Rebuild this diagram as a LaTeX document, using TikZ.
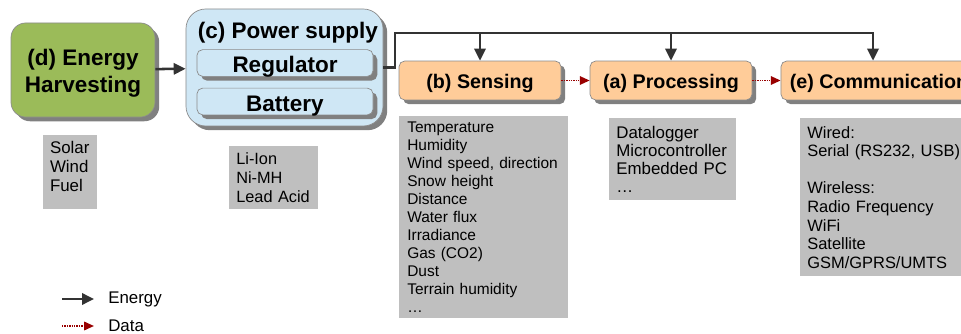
\documentclass[tikz,border=0pt]{standalone}
\usepackage{fontspec}
\setmainfont{Liberation Sans}
\usetikzlibrary{arrows.meta,shadows,positioning}

\definecolor{harvgreen}{HTML}{9BBB59}
\definecolor{psublue}{HTML}{CFE7F5}
\definecolor{peach}{HTML}{FFCC99}
\definecolor{shadowgray}{HTML}{808080}
\definecolor{edgegray}{HTML}{8C8C8C}
\definecolor{wiregray}{HTML}{333333}
\definecolor{datared}{HTML}{990000}

\tikzset{
  block/.style={draw=edgegray,line width=0.5pt,
    drop shadow={shadow xshift=3pt,shadow yshift=-3pt,fill=shadowgray,opacity=1}},
  bigblock/.style={block,font=\fontsize{16}{19.2}\selectfont\bfseries,align=center},
  stageblock/.style={block,fill=peach,rounded corners=4pt,minimum width=115.2pt,
    minimum height=27.7pt,inner sep=0pt,text height=12pt,text depth=0pt,
    font=\fontsize{14}{16}\selectfont\bfseries},
  partblock/.style={block,fill=psublue,rounded corners=4pt,minimum width=125.2pt,
    minimum height=19pt,inner sep=0pt,text height=14pt,text depth=0pt,
    font=\fontsize{16}{19.2}\selectfont\bfseries},
  listbox/.style={fill=gray!50,anchor=north west,align=left,inner xsep=5pt,inner ysep=0pt,
    font=\fontsize{12}{12.9}\selectfont},
  wire/.style={draw=wiregray,line width=1.8pt},
  energy/.style={wire,-{Triangle[length=8.5pt,width=8pt]}},
  data/.style={draw=datared,line width=1.3pt,dash pattern=on 1pt off 0.7pt,
    -{Triangle[length=7pt,width=6pt,fill=datared]}},
  legtext/.style={anchor=west,inner sep=0pt,font=\fontsize{12}{13}\selectfont}
}

\begin{document}
\begin{tikzpicture}[x=0.025cm,y=-0.025cm]
  \useasboundingbox (0,0) rectangle (961,334);

  % energy chain
  \node[bigblock,fill=harvgreen,rounded corners=10.5pt,minimum width=102.4pt,
    minimum height=66.9pt,text height=32.6pt,text depth=0pt] (harv) at (83,70) {(d) Energy\\Harvesting};
  \node[block,fill=psublue,rounded corners=14pt,minimum width=140.1pt,
    minimum height=83.2pt] (psu) at (284.5,67.5) {};
  \node[inner sep=0pt,text height=14pt,text depth=0pt,
    font=\fontsize{16}{19.2}\selectfont\bfseries] (psutitle) at (288,29) {(c) Power supply};
  \node[partblock] (reg) at (285,63) {Regulator};
  \node[partblock] (bat) at (285,101.5) {Battery};

  % processing chain
  \node[stageblock] (sens) at (480,80.5) {(b) Sensing};
  \node[stageblock] (proc) at (671,80.5) {(a) Processing};
  \node[stageblock,minimum width=139.4pt] (comm) at (879,80.5) {(e) Communication};

  % lists
  \node[listbox,inner xsep=4.8pt,text width=28.5pt,minimum height=52.6pt,text depth=35.6pt,
    font=\fontsize{12}{13.5}\selectfont] (harvlist) at (43,135) {Solar\\Wind\\Fuel};
  \node[listbox,text width=53pt,minimum height=44.8pt,
    font=\fontsize{11.6}{13.5}\selectfont] (psulist) at (229,146) {Li-Ion\\Ni-MH\\Lead Acid};
  \node[listbox,inner xsep=5.7pt,text width=108.8pt,minimum height=143.7pt,
    font=\fontsize{11}{12.8}\selectfont] (senslist) at (399,116)
    {Temperature\\Humidity\\Wind speed, direction\\Snow height\\Distance\\Water flux\\
     Irradiance\\Gas (CO2)\\Dust\\Terrain humidity\\\dots};
  \node[listbox,text width=80pt,minimum height=58.3pt,
    font=\fontsize{12}{12.8}\selectfont] (proclist) at (609,118)
    {Datalogger\\Microcontroller\\Embedded PC\\\dots};
  \node[listbox,text width=112pt,minimum height=112.4pt,
    font=\fontsize{11.7}{13.2}\selectfont] (commlist) at (800,118)
    {Wired:\\Serial (RS232, USB)\\[13.2pt]Wireless:\\Radio Frequency\\WiFi\\Satellite\\GSM/GPRS/UMTS};

  % connectors
  \coordinate (bus) at (395,33);
  \coordinate (commtop) at ([xshift=-0.15cm]comm.north);
  \draw[energy] (harv) -- (psu);
  \draw[energy] (psu.east) -| (bus) -| (commtop);
  \draw[energy] (bus -| sens.north) -- (sens.north);
  \draw[energy] (bus -| proc.north) -- (proc.north);
  \draw[data] (sens) -- (proc);
  \draw[data] (proc) -- (comm);

  % legend
  \coordinate (enA) at (62,299);
  \coordinate (enB) at (94,299);
  \coordinate (daA) at (62,326);
  \coordinate (daB) at (94,326);
  \draw[energy] (enA) -- (enB);
  \draw[data] (daA) -- (daB);
  \node[legtext] (enlabel) at (108,299.5) {Energy};
  \node[legtext] (dalabel) at (108,325.5) {Data};
\end{tikzpicture}
\end{document}
